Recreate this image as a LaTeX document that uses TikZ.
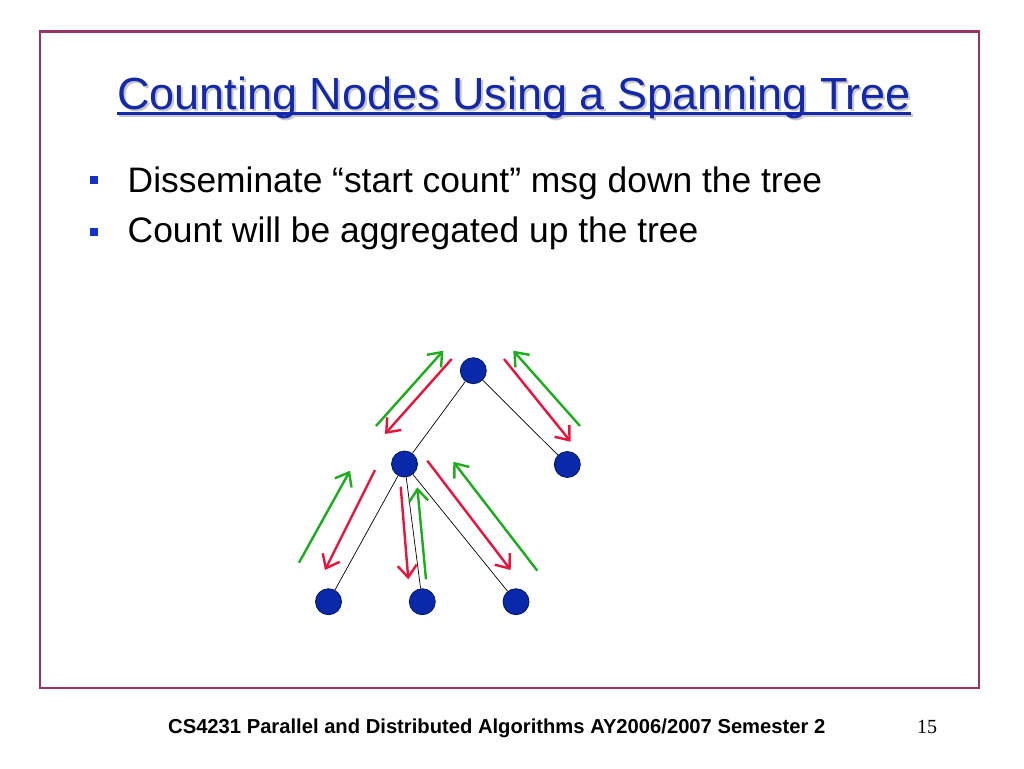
\documentclass[tikz,border=0pt]{standalone}
\usepackage{fontspec}
\setmainfont{Liberation Sans}
\newfontfamily\pagenumfont{Liberation Serif}
\usetikzlibrary{arrows.meta}
\definecolor{slideframe}{RGB}{153,51,102}
\definecolor{titleblue}{RGB}{20,40,170}
\definecolor{bulletblue}{RGB}{20,50,200}
\definecolor{treefill}{RGB}{10,40,170}
\definecolor{treedraw}{RGB}{0,25,90}
\definecolor{msgred}{RGB}{232,20,60}
\definecolor{msggreen}{RGB}{30,172,30}
\tikzset{
  treenode/.style={circle,fill=treefill,draw=treedraw,line width=0.8pt,minimum size=26pt,inner sep=0pt},
  treeedge/.style={line width=0.7pt,black},
  downmsg/.style={->,msgred,line width=2.4pt},
  upmsg/.style={->,msggreen,line width=2.4pt},
  bulletsq/.style={fill=bulletblue,minimum size=8pt,inner sep=0pt},
  bullettext/.style={anchor=base west,inner sep=0pt,font=\fontsize{35.4}{40}\selectfont}
}
\begin{document}
\begin{tikzpicture}[x=1pt,y=-1pt,>={Straight Barb[length=12pt,width=19pt]}]
\useasboundingbox[fill=white] (0,0) rectangle (1024,768);
% slide frame
\draw[slideframe,line width=2.5pt] (40,31.5) rectangle (979,688);
% title with shadow and underline
\node[anchor=base west,inner sep=0pt,gray!45,font=\fontsize{45}{50}\selectfont] (titleshadow) at (119,111) {Counting Nodes Using a Spanning Tree};
\draw[gray!45,line width=2.5pt] ([yshift=-4.5pt]titleshadow.base west) -- ([yshift=-4.5pt]titleshadow.base east);
\node[anchor=base west,inner sep=0pt,titleblue,font=\fontsize{45}{50}\selectfont] (title) at (117,109) {Counting Nodes Using a Spanning Tree};
\draw[titleblue,line width=2.5pt] ([yshift=-4.5pt]title.base west) -- ([yshift=-4.5pt]title.base east);
% bullets
\node[bulletsq] (b1) at (93.5,179.5) {};
\node[bullettext] (t1) at (127.5,192) {Disseminate “start count” msg down the tree};
\node[bulletsq] (b2) at (93.5,232) {};
\node[bullettext] (t2) at (127.5,242.3) {Count will be aggregated up the tree};
% spanning tree
\node[treenode] (root) at (473.3,370.7) {};
\node[treenode] (mid) at (404.5,464) {};
\node[treenode] (right) at (567.3,464.5) {};
\node[treenode] (leafa) at (328.5,601.7) {};
\node[treenode] (leafb) at (422.3,601.7) {};
\node[treenode] (leafc) at (516,601.7) {};
\draw[treeedge] (root) -- (mid);
\draw[treeedge] (root) -- (right);
\draw[treeedge] (mid) -- (leafa);
\draw[treeedge] (mid) -- (leafb);
\draw[treeedge] (mid) -- (leafc);
% messages between root and mid
\draw[upmsg] (376,426) -- (443.3,350.7);
\draw[downmsg] (451.7,359) -- (385,434);
% messages between root and right
\draw[downmsg] (504,359) -- (570.7,441.7);
\draw[upmsg] (580,426) -- (513.3,350.7);
% messages between mid and leaves
\draw[upmsg] (299,562.7) -- (350,470.7);
\draw[downmsg] (375,470) -- (325,570);
\draw[downmsg] (400.7,486.7) -- (408.3,579.3);
\draw[upmsg] (426,579.3) -- (417.3,487.3);
\draw[downmsg] (427.3,460.7) -- (510.7,570);
\draw[upmsg] (537.3,570.7) -- (453.3,461.7);
% footer
\node[anchor=base west,inner sep=0pt,font=\bfseries\fontsize{20.2}{24}\selectfont] (footer) at (168,733) {CS4231 Parallel and Distributed Algorithms AY2006/2007 Semester 2};
\node[anchor=base west,inner sep=0pt,font=\pagenumfont\fontsize{20}{24}\selectfont] (pagenum) at (917,733.5) {15};
\end{tikzpicture}
\end{document}
